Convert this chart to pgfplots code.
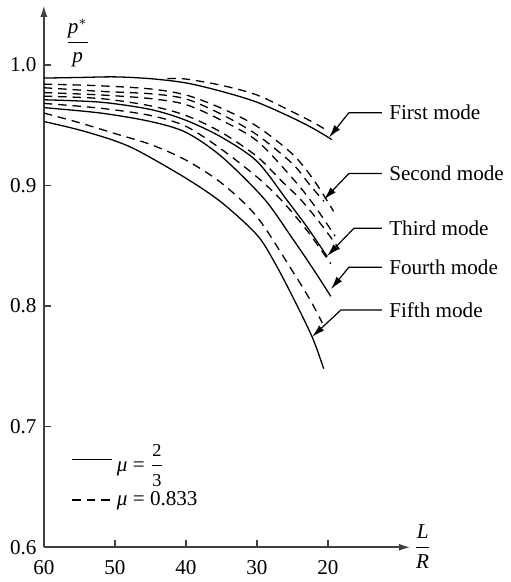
\documentclass[border=0pt]{standalone}
\usepackage{amsmath}
\usepackage{fontspec}
\setmainfont{Liberation Serif}
\usepackage{pgfplots}
\pgfplotsset{compat=1.18}
\usetikzlibrary{arrows.meta}
\newcommand{\fd}[1]{\mbox{\fontsize{9.2}{10}\selectfont #1}}
\begin{document}
\fontsize{10.6}{12.7}\selectfont
\begin{tikzpicture}
\begin{axis}[
  scale only axis, width=184pt, height=272pt,
  x dir=reverse, xmin=8.35, xmax=60, ymin=0.6, ymax=1.0496,
  axis x line=bottom, axis y line=left,
  axis line style={black!75, line width=1pt},
  x axis line style={{Latex[length=6pt,width=3.6pt]}-},
  y axis line style={-{Latex[length=6pt,width=3.6pt]}},
  tick align=inside, major tick length=3.5pt,
  tick style={black!75, line width=0.8pt},
  xtick={60,50,40,30,20}, xticklabels={60,50,40,30,20},
  ytick={0.6,0.7,0.8,0.9,1.0}, yticklabels={0.6,0.7,0.8,0.9,1.0},
  xticklabel style={yshift=-3pt},
  clip=false,
  legend cell align=left,
  legend style={draw=none, fill=none, inner sep=0pt, row sep=4.5pt,
    at={(axis description cs:0.075,0.198)}, anchor=north west},
  legend image code/.code={\draw[#1] (0pt,0pt) -- (20pt,0pt);},
  every axis plot/.append style={black, line width=0.65pt, smooth},
]
\path (axis description cs:-0.1196,-0.0607) rectangle (axis description cs:1.2527,1.0092);
% first mode solid
\addplot[solid, no markers] coordinates {(60,0.989) (55,0.9895) (50,0.990) (45,0.9885) (40,0.985) (35,0.978) (30,0.969) (25,0.956) (22,0.947) (19.45,0.938)};
\addlegendentry{\textit{μ} = $\dfrac{\fd{2}}{\fd{3}}$}
% first mode dashed
\addplot[dash pattern=on 4.2pt off 3pt] coordinates {(42.6,0.9885) (40,0.9882) (35,0.983) (30,0.975) (25,0.961) (22,0.952) (19.86,0.9446)};
\addlegendentry{\textit{μ} = 0.833}
% dashed group
\addplot[dash pattern=on 4.2pt off 3pt, forget plot] coordinates {(60,0.984) (52,0.9826) (45,0.980) (40,0.975) (35,0.964) (30,0.949) (25,0.926) (22,0.9045) (19.2,0.8785)};
\addplot[dash pattern=on 4.2pt off 3pt, forget plot] coordinates {(60,0.981) (52,0.978) (45,0.976) (40,0.9717) (35,0.959) (30,0.942) (25,0.918) (22.5,0.900) (20.56,0.8868)};
\addplot[dash pattern=on 4.2pt off 3pt, forget plot] coordinates {(60,0.977) (52,0.975) (45,0.972) (40,0.967) (35,0.954) (30,0.937) (25,0.906) (22,0.884) (19.0,0.858)};
\addplot[dash pattern=on 4.2pt off 3pt, forget plot] coordinates {(60,0.974) (52,0.972) (45,0.966) (40,0.958) (35,0.944) (30,0.924) (26.5,0.9035) (23.8,0.888) (21,0.868) (18.4,0.847)};
% third solid
\addplot[forget plot] coordinates {(60,0.971) (52,0.969) (45,0.963) (40,0.954) (35,0.940) (30,0.920) (25.8,0.888) (23,0.866) (20.1,0.841)};
% D5
\addplot[dash pattern=on 4.2pt off 3pt, forget plot] coordinates {(60,0.968) (52,0.964) (45,0.958) (40,0.949) (35,0.930) (30,0.907) (26.6,0.888) (23,0.863) (19.6,0.835)};
% fourth solid
\addplot[forget plot] coordinates {(60,0.9645) (52,0.960) (45,0.953) (40,0.944) (35,0.924) (29,0.889) (25,0.856) (22,0.830) (19.6,0.808)};
% D6
\addplot[dash pattern=on 4.2pt off 3pt, forget plot] coordinates {(60,0.960) (55,0.952) (50,0.943) (45,0.934) (40,0.921) (35,0.902) (30,0.874) (25,0.829) (22.5,0.805) (20.8,0.786)};
% fifth solid
\addplot[forget plot] coordinates {(60,0.953) (55,0.946) (50,0.937) (46.5,0.928) (40,0.906) (35,0.886) (30,0.859) (27.5,0.836) (25,0.808) (22.2,0.774) (20.6,0.748)};
% annotations
\begin{scope}[line width=0.6pt, -{Latex[length=6.5pt,width=3.6pt]}]
\draw (axis cs:12.4,0.9603) -- (axis cs:17.05,0.9603) -- (axis cs:19.86,0.9397);
\draw (axis cs:12.4,0.9099) -- (axis cs:17.05,0.9099) -- (axis cs:20.56,0.8884);
\draw (axis cs:12.4,0.8645) -- (axis cs:16.35,0.8645) -- (axis cs:20.14,0.8413);
\draw (axis cs:12.4,0.8322) -- (axis cs:17.05,0.8322) -- (axis cs:19.58,0.8140);
\draw (axis cs:12.4,0.7967) -- (axis cs:18.18,0.7967) -- (axis cs:22.25,0.7744);
\end{scope}
\node[anchor=west, inner sep=3.5pt] at (axis cs:12.4,0.9603) {First mode};
\node[anchor=west, inner sep=3.5pt] at (axis cs:12.4,0.9099) {Second mode};
\node[anchor=west, inner sep=3.5pt] at (axis cs:12.4,0.8645) {Third mode};
\node[anchor=west, inner sep=3.5pt] at (axis cs:12.4,0.8322) {Fourth mode};
\node[anchor=west, inner sep=3.5pt] at (axis cs:12.4,0.7967) {Fifth mode};
\node at (axis description cs:0.0924,0.930) {$\dfrac{\textit{p}^{*}}{\textit{p}}$};
\node at (axis description cs:1.0326,0.0018) {$\dfrac{\textit{L}}{\textit{R}}$};
\end{axis}
\end{tikzpicture}
\end{document}
